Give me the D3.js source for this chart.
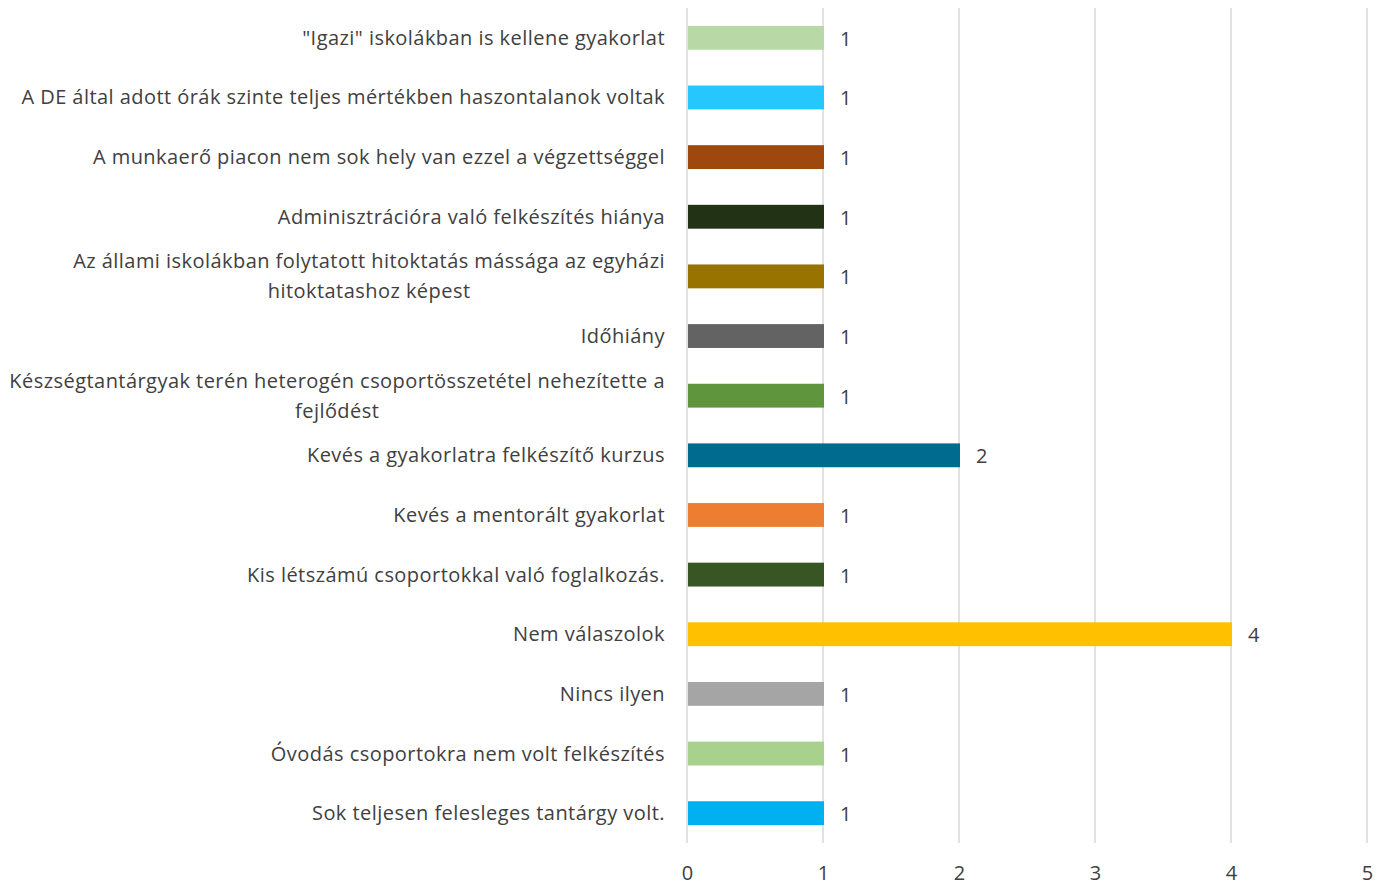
<!DOCTYPE html>
<html>
<head>
<meta charset="utf-8">
<script src="https://cdn.jsdelivr.net/npm/d3@7"></script>
<style>
  body { margin: 0; background: #fff; }
  svg text { font-family: "Open Sans", "Noto Sans", sans-serif; fill: #404040; }
</style>
</head>
<body>
<div id="chart"></div>
<script>
// Data (top to bottom as shown)
var categories = [
    ["\"Igazi\" iskolákban is kellene gyakorlat"],
    ["A DE által adott órák szinte teljes mértékben haszontalanok voltak"],
    ["A munkaerő piacon nem sok hely van ezzel a végzettséggel"],
    ["Adminisztrációra való felkészítés hiánya"],
    ["Az állami iskolákban folytatott hitoktatás mássága az egyházi", "hitoktatashoz képest"],
    ["Időhiány"],
    ["Készségtantárgyak terén heterogén csoportösszetétel nehezítette a", "fejlődést"],
    ["Kevés a gyakorlatra felkészítő kurzus"],
    ["Kevés a mentorált gyakorlat"],
    ["Kis létszámú csoportokkal való foglalkozás."],
    ["Nem válaszolok"],
    ["Nincs ilyen"],
    ["Óvodás csoportokra nem volt felkészítés"],
    ["Sok teljesen felesleges tantárgy volt."]
];
var values = [1, 1, 1, 1, 1, 1, 1, 2, 1, 1, 4, 1, 1, 1];
var colors = ["#B8D9A6", "#26C6FF", "#9E480E", "#223315", "#997300", "#636363", "#5F953D",
              "#006A8F", "#ED7D31", "#375623", "#FFC000", "#A5A5A5", "#A9D18E", "#00B0F0"];
var xTicks = [0, 1, 2, 3, 4, 5];

var width = 1384, height = 886;
var plotLeft = 687, plotRight = 1367, plotTop = 8, plotBottom = 843;

var svg = d3.select("#chart")
    .append("svg")
    .attr("width", width)
    .attr("height", height);

var x = d3.scaleLinear().domain([0, 5]).range([plotLeft, plotRight]);
var y = d3.scaleBand()
    .domain(d3.range(categories.length))
    .range([plotTop, plotBottom])
    .paddingInner(0.6)
    .paddingOuter(0.3);

// gridlines
svg.append("g")
    .selectAll("line")
    .data(xTicks)
    .join("line")
    .attr("x1", d => x(d)).attr("x2", d => x(d))
    .attr("y1", plotTop).attr("y2", plotBottom)
    .attr("stroke", "#D9D9D9")
    .attr("stroke-width", 1.5);

// x axis tick labels
var xAxis = svg.append("g")
    .attr("transform", "translate(0," + (plotBottom + 17) + ")")
    .call(d3.axisBottom(x).tickValues(xTicks).tickFormat(d3.format("d")).tickSize(0).tickPadding(6));
xAxis.select(".domain").remove();
xAxis.selectAll("text").style("font-size", "20px").attr("fill", "#595959");

// bars
svg.append("g")
    .selectAll("rect")
    .data(values)
    .join("rect")
    .attr("x", x(0) + 1)
    .attr("y", (d, i) => y(i))
    .attr("width", d => x(d) - x(0))
    .attr("height", y.bandwidth())
    .attr("fill", (d, i) => colors[i]);

// value labels
svg.append("g")
    .selectAll("text")
    .data(values)
    .join("text")
    .attr("x", d => x(d) + 17)
    .attr("y", (d, i) => y(i) + y.bandwidth() / 2 + 1)
    .attr("dy", "0.35em")
    .style("font-size", "20px")
    .text(d => d);

// category labels (right aligned block, lines centred within block)
var labelRight = plotLeft - 22;
var lineH = 30;
categories.forEach(function(lines, i) {
    var cy = y(i) + y.bandwidth() / 2;
    var g = svg.append("g");
    var texts = lines.map(function(line, j) {
        return g.append("text")
            .attr("y", cy + (j - (lines.length - 1) / 2) * lineH)
            .attr("dy", "0.35em")
            .attr("text-anchor", "middle")
            .style("font-size", "20px")
            .style("letter-spacing", "0.45px")
            .text(line);
    });
    var widths = texts.map(t => t.node().getComputedTextLength());
    var maxW = d3.max(widths);
    texts.forEach(t => t.attr("x", labelRight - maxW / 2));
});
</script>
</body>
</html>
